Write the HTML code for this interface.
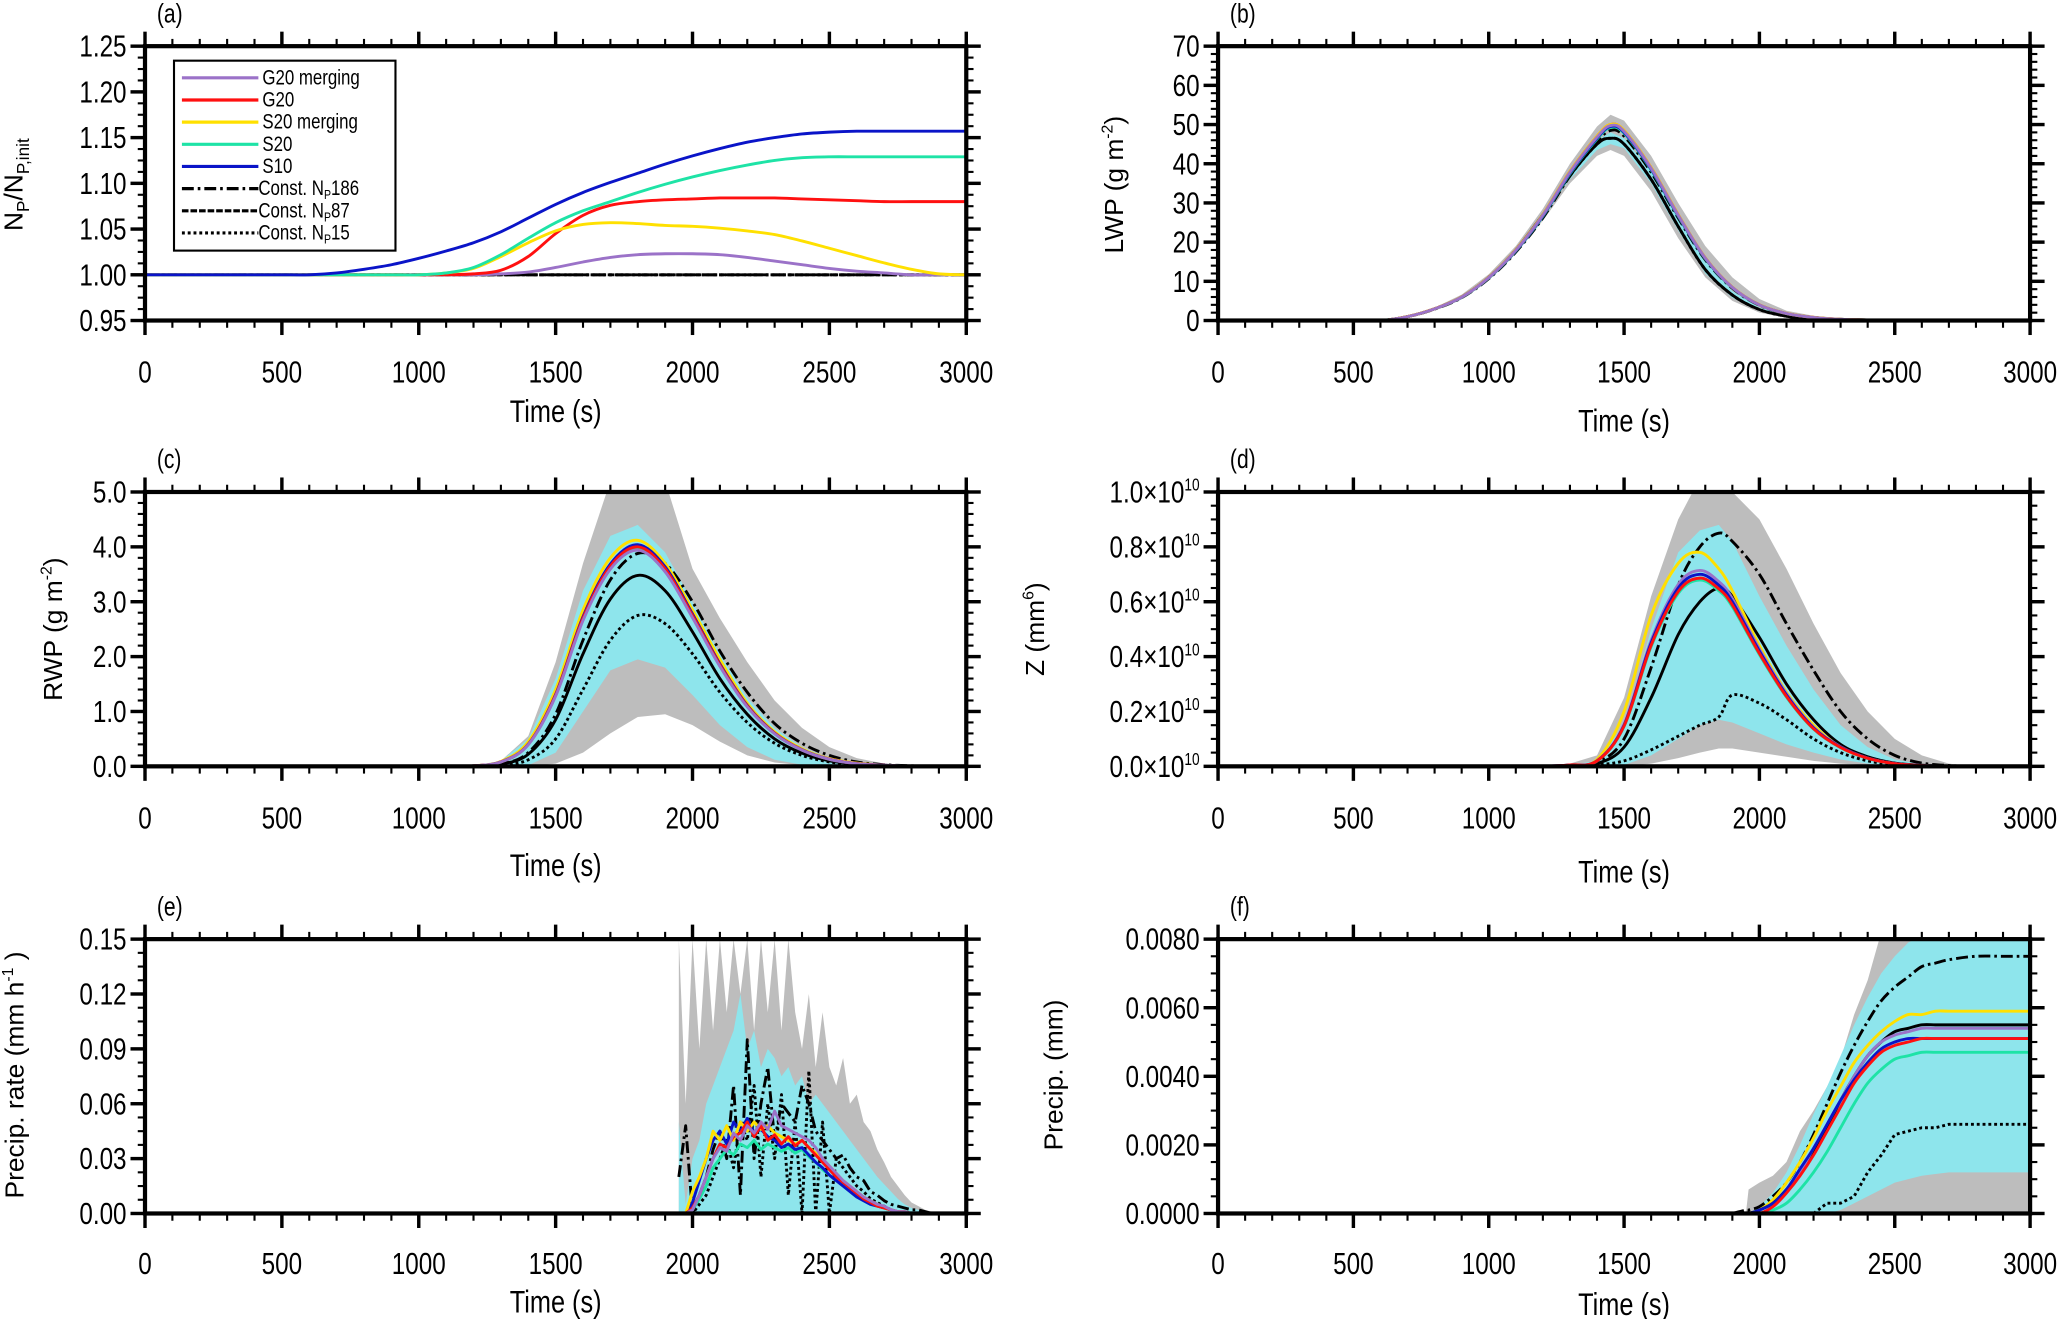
<!DOCTYPE html>
<html><head><meta charset="utf-8"><title>Multi-panel time series</title>
<style>
html,body{margin:0;padding:0;background:#fff;}
svg{display:block;}
text{fill:#000;}
.tk{font-family:"Liberation Sans Narrow","Liberation Sans",sans-serif;font-size:23px;}
.yt{font-family:"Liberation Sans",sans-serif;font-size:20px;}
.xt{font-family:"Liberation Sans Narrow","Liberation Sans",sans-serif;font-size:24px;}
.pl{font-family:"Liberation Sans Narrow","Liberation Sans",sans-serif;font-size:20px;}
.lg{font-family:"Liberation Sans Narrow","Liberation Sans",sans-serif;font-size:16px;}
</style></head>
<body>
<svg id="fig" width="2067" height="1319" viewBox="0 0 1568 1000" preserveAspectRatio="none" xmlns="http://www.w3.org/2000/svg"></svg>
<script>
// ---------- panel (a) data ----------
const tA = [0,100,200,300,400,500,600,700,800,900,1000,1100,1200,1300,1400,1500,1600,1700,1800,1900,2000,2100,2200,2300,2400,2500,2600,2700,2800,2900,3000];
const aG20m = [1,1,1,1,1,1,1,1,1,1,1,1,1,1.001,1.003,1.008,1.014,1.019,1.022,1.023,1.023,1.022,1.019,1.015,1.011,1.007,1.004,1.002,1.0,1.0,1.0];
const aG20 = [1,1,1,1,1,1,1,1,1,1,1,1,1.001,1.005,1.02,1.045,1.065,1.076,1.080,1.082,1.083,1.084,1.084,1.084,1.083,1.082,1.081,1.080,1.080,1.080,1.080];
const aS20m = [1,1,1,1,1,1,1,1,1,1,1,1.002,1.007,1.02,1.035,1.048,1.055,1.057,1.056,1.054,1.053,1.051,1.048,1.044,1.037,1.029,1.021,1.013,1.006,1.001,1.0];
const aS20 = [1,1,1,1,1,1,1,1,1,1,1,1.002,1.008,1.022,1.04,1.057,1.07,1.08,1.09,1.099,1.107,1.114,1.12,1.125,1.128,1.129,1.129,1.129,1.129,1.129,1.129];
const aS10 = [1,1,1,1,1,1,1,1.002,1.006,1.011,1.018,1.026,1.035,1.047,1.062,1.077,1.09,1.101,1.111,1.121,1.13,1.138,1.145,1.15,1.154,1.156,1.157,1.157,1.157,1.157,1.157];
const aConst = [1,1,1,1,1,1,1,1,1,1,1,1,1,1,1,1,1,1,1,1,1,1,1,1,1,1,1,1,1,1,1];

// ---------- panel (b) data ----------
const tB = [500,600,700,800,900,1000,1100,1200,1300,1400,1450,1500,1600,1700,1800,1900,2000,2100,2200,2300,2400,2500,2600];
const bColor = [0,0,1,3,6,11,18,27,38,47,50,48.5,39,27,16,8.5,4,1.8,0.8,0.3,0.15,0.05,0];
const bBlack = [0,0,1,3,6,11,18,27,37,45,46.5,45,36,24,13,6.5,2.8,1.1,0.4,0.1,0,0,0];
const bGrayHi = [0,0,1.2,3.3,6.6,11.8,19,28.5,40,49.5,52.5,51,42,30,19,11,5.5,2.5,1.2,0.6,0.3,0.1,0];
const bGrayLo = [0,0,0.8,2.7,5.4,10.2,17,25.5,35,42,43.5,42,33,21,11,5,2,0.7,0.2,0,0,0,0];
const bCyanHi = [0,0,1,3,6,11,18,27,38,46,48,46.5,38,26,15,7.5,3.3,1.3,0.5,0.2,0,0,0];
const bCyanLo = [0,0,1,3,6,11,18,27,36,43.5,45,44,35,23,12,5.8,2.4,0.9,0.3,0,0,0,0];

// ---------- panel (c) data ----------
const tC = [1100,1200,1300,1400,1500,1600,1700,1800,1900,2000,2100,2200,2300,2400,2500,2600,2700,2800,2900];
const cColor = [0,0.01,0.08,0.4,1.3,2.7,3.65,4.0,3.6,2.75,1.85,1.1,0.6,0.3,0.13,0.05,0.02,0,0];
const cYellow = [0,0.01,0.09,0.45,1.4,2.85,3.8,4.12,3.7,2.85,1.95,1.15,0.63,0.32,0.14,0.06,0.02,0,0];
const c186 = [0,0,0.04,0.25,0.95,2.3,3.4,3.88,3.7,3.0,2.1,1.35,0.78,0.42,0.2,0.08,0.03,0.01,0];
const c87 = [0,0,0.04,0.22,0.85,2.05,3.05,3.48,3.2,2.45,1.6,0.95,0.5,0.24,0.1,0.04,0.01,0,0];
const c15 = [0,0,0.02,0.12,0.5,1.4,2.3,2.75,2.6,2.05,1.35,0.8,0.42,0.2,0.08,0.03,0.01,0,0];
const cGrayHi = [0,0.01,0.1,0.55,1.9,3.7,5.2,5.5,5.2,3.6,2.7,1.9,1.2,0.7,0.35,0.15,0.05,0.01,0];
const cGrayLo = [0,0,0,0,0.05,0.25,0.6,0.9,0.95,0.75,0.45,0.2,0.07,0.02,0,0,0,0,0];
const cCyanHi = [0,0.01,0.1,0.5,1.6,3.2,4.2,4.4,3.9,3.0,2.05,1.25,0.7,0.35,0.15,0.06,0.02,0,0];
const cCyanLo = [0,0,0,0.02,0.25,1.0,1.75,1.95,1.8,1.3,0.75,0.35,0.12,0.03,0,0,0,0,0];

// ---------- panel (d) data (units 1e10 mm^6) ----------
const tD = [1200,1300,1400,1500,1600,1700,1780,1850,1900,2000,2100,2200,2300,2400,2500,2600,2700,2800];
const dColor = [0,0.005,0.02,0.15,0.45,0.65,0.7,0.66,0.6,0.42,0.26,0.14,0.07,0.03,0.01,0.003,0,0];
const dYellow = [0,0.005,0.025,0.2,0.55,0.74,0.78,0.72,0.64,0.44,0.27,0.15,0.07,0.03,0.01,0.003,0,0];
const d186 = [0,0.003,0.015,0.1,0.36,0.66,0.8,0.85,0.82,0.7,0.52,0.35,0.2,0.1,0.04,0.012,0.003,0];
const d87 = [0,0.003,0.01,0.07,0.25,0.48,0.6,0.65,0.62,0.47,0.3,0.17,0.08,0.035,0.012,0.004,0,0];
const d15 = [0,0,0.005,0.02,0.06,0.11,0.15,0.18,0.26,0.23,0.17,0.1,0.05,0.02,0.006,0.002,0,0];
const dGrayHi = [0,0.01,0.04,0.25,0.62,0.9,1.05,1.05,1.0,0.9,0.72,0.52,0.34,0.2,0.1,0.04,0.01,0];
const dGrayLo = [0,0,0,0,0.01,0.03,0.05,0.065,0.065,0.05,0.035,0.02,0.01,0.005,0,0,0,0];
const dCyanHi = [0,0.005,0.02,0.15,0.5,0.78,0.86,0.88,0.82,0.62,0.44,0.28,0.15,0.07,0.025,0.008,0,0];
const dCyanLo = [0,0,0,0.005,0.04,0.1,0.15,0.17,0.16,0.12,0.08,0.05,0.025,0.01,0,0,0,0];

// ---------- panel (e) data ----------
const tE = [1950,1975,2000,2025,2050,2075,2100,2125,2150,2175,2200,2225,2250,2275,2300,2325,2350,2375,2400,2425,2450,2475,2500,2525,2550,2575,2600,2625,2650,2675,2700,2725,2750,2775,2800,2825,2850,2875,2900];
const eGrayHi = [0.15,0.06,0.15,0.09,0.15,0.10,0.15,0.11,0.15,0.12,0.15,0.10,0.15,0.11,0.15,0.10,0.15,0.11,0.09,0.12,0.08,0.11,0.08,0.07,0.085,0.06,0.065,0.05,0.045,0.035,0.028,0.02,0.015,0.01,0.006,0.004,0.002,0.001,0];
const eCyanHi = [0.05,0.005,0.03,0.04,0.06,0.07,0.08,0.09,0.10,0.12,0.09,0.10,0.08,0.09,0.085,0.075,0.08,0.07,0.075,0.06,0.065,0.06,0.055,0.05,0.045,0.04,0.035,0.03,0.025,0.02,0.016,0.012,0.008,0.005,0.003,0.002,0.001,0,0];
const e186 = [0.02,0.048,0,0.01,0.02,0.035,0.045,0.03,0.07,0.01,0.095,0.03,0.06,0.08,0.04,0.06,0.055,0.05,0.07,0.06,0.045,0.04,0.035,0.03,0.032,0.025,0.02,0.018,0.012,0.01,0.007,0.005,0.004,0.003,0.002,0.002,0.001,0,0];
const e15 = [0,0,0,0.005,0.01,0.02,0.03,0.04,0.025,0.05,0.04,0.07,0.02,0.06,0.03,0.065,0.01,0.05,0,0.078,0,0.05,0,0.03,0.025,0.02,0.015,0.012,0.008,0.006,0.004,0.002,0.001,0,0,0,0,0,0];
const eBlue = [0,0,0.006,0.018,0.03,0.04,0.045,0.038,0.05,0.045,0.052,0.044,0.046,0.042,0.04,0.036,0.038,0.035,0.036,0.032,0.028,0.025,0.021,0.018,0.015,0.012,0.009,0.007,0.005,0.004,0.003,0.002,0.001,0.001,0,0,0,0,0];
const eRed = [0,0,0.003,0.01,0.02,0.03,0.038,0.036,0.042,0.044,0.05,0.042,0.048,0.04,0.043,0.038,0.042,0.037,0.04,0.036,0.032,0.028,0.024,0.02,0.017,0.014,0.011,0.008,0.006,0.004,0.003,0.002,0.001,0.001,0,0,0,0,0];
const eYellow = [0,0,0.012,0.02,0.03,0.045,0.04,0.048,0.04,0.05,0.045,0.05,0.046,0.048,0.044,0.042,0.04,0.038,0.04,0.036,0.033,0.03,0.026,0.022,0.018,0.015,0.012,0.009,0.007,0.005,0.003,0.002,0.001,0.001,0,0,0,0,0];
const eGreen = [0,0,0.002,0.008,0.015,0.025,0.03,0.035,0.032,0.038,0.036,0.04,0.035,0.038,0.036,0.034,0.036,0.033,0.035,0.031,0.028,0.024,0.021,0.018,0.015,0.012,0.009,0.007,0.005,0.004,0.003,0.002,0.001,0,0,0,0,0,0];
const ePurple = [0,0,0.002,0.01,0.02,0.03,0.036,0.034,0.044,0.04,0.048,0.044,0.05,0.046,0.056,0.048,0.046,0.044,0.042,0.04,0.036,0.03,0.026,0.022,0.018,0.015,0.012,0.009,0.007,0.005,0.004,0.002,0.001,0.001,0,0,0,0,0];

// ---------- panel (f) data ----------
const tF = [1900,1950,1960,2000,2050,2100,2150,2200,2250,2300,2350,2400,2450,2500,2550,2600,2650,2700,2800,2900,3000];
const fGrayHi = [0,0,0.0007,0.0009,0.0011,0.0015,0.0024,0.0030,0.0037,0.0045,0.0058,0.0068,0.0082,0.009,0.009,0.009,0.009,0.009,0.009,0.009,0.009];
const fCyanHi = [0,0,0,0.0002,0.0006,0.0012,0.002,0.0029,0.0037,0.0046,0.0055,0.0063,0.007,0.0075,0.0079,0.0081,0.0082,0.0082,0.0082,0.0082,0.0082];
const fCyanLo = [0,0,0,0,0,0,0,0,0,0.0001,0.0003,0.0005,0.0007,0.0009,0.001,0.0011,0.00115,0.0012,0.0012,0.0012,0.0012];
const f186 = [0,0.0001,0.0001,0.0002,0.0005,0.0009,0.0015,0.0023,0.0032,0.0041,0.0049,0.0056,0.0062,0.0066,0.0069,0.0072,0.0073,0.0074,0.0075,0.0075,0.0075];
const fYellow = [0,0,0,0.0001,0.0004,0.0009,0.0015,0.0022,0.003,0.0037,0.0044,0.0049,0.0053,0.0056,0.0058,0.0058,0.0059,0.0059,0.0059,0.0059,0.0059];
const fPurple = [0,0,0,0,0.0002,0.0006,0.0012,0.0019,0.0026,0.0033,0.004,0.0046,0.005,0.0052,0.0053,0.0054,0.0054,0.0054,0.0054,0.0054,0.0054];
const f87 = [0,0,0,0.0001,0.0003,0.0007,0.0012,0.0018,0.0025,0.0033,0.004,0.0046,0.005,0.0053,0.0054,0.0055,0.0055,0.0055,0.0055,0.0055,0.0055];
const fBlue = [0,0,0,0.0001,0.0003,0.0007,0.0013,0.0019,0.0026,0.0033,0.0039,0.0044,0.0048,0.005,0.0051,0.0051,0.0051,0.0051,0.0051,0.0051,0.0051];
const fRed = [0,0,0,0,0.0002,0.0006,0.0011,0.0017,0.0024,0.0031,0.0038,0.0043,0.0047,0.0049,0.005,0.0051,0.0051,0.0051,0.0051,0.0051,0.0051];
const fGreen = [0,0,0,0,0.0001,0.0003,0.0007,0.0012,0.0018,0.0025,0.0032,0.0038,0.0042,0.0045,0.0046,0.0047,0.0047,0.0047,0.0047,0.0047,0.0047];
const f15 = [0,0,0,0,0,0,0,0,0.0003,0.0003,0.0005,0.0012,0.0017,0.0023,0.0024,0.0025,0.0025,0.0026,0.0026,0.0026,0.0026];

const legendLabels = ["G20 merging","G20","S20 merging","S20","S10","Const. N","Const. N","Const. N"];
const legendSuffix = ["","","","","","186","87","15"];

const NS = "http://www.w3.org/2000/svg";
const svg = document.getElementById('fig');
const COL = {purple:"#9b72c8", red:"#ff1010", yellow:"#ffe000", green:"#1ee3a6", blue:"#0a14c8", cyan:"#8ee5ec", gray:"#bdbdbd"};
const DASH = {dd:"9,3,2,3", da:"5,1.5", dot:"2.2,2.2"};

function mk(tag, attrs, parent){
  const e = document.createElementNS(NS, tag);
  for (const k in attrs) e.setAttribute(k, attrs[k]);
  (parent||svg).appendChild(e);
  return e;
}

function makePanel(p){
  const g = mk('g', {});
  
  
  const sx = v => p.x0 + (v - 0) / 3000 * (p.x1 - p.x0);
  const sy = v => p.y1 - (v - p.ymin) / (p.ymax - p.ymin) * (p.y1 - p.y0);
  const clip = mk('clipPath', {id:'clip' + p.id}, g);
  mk('rect', {x:p.x0, y:p.y0, width:p.x1 - p.x0, height:p.y1 - p.y0}, clip);
  const plot = mk('g', {'clip-path':'url(#clip' + p.id + ')'}, g);
  
  
  return {g, plot, sx, sy, p};
}

function pathFrom(P, ts, vs, smooth){
  const pts = ts.map((t,i)=>[P.sx(t), P.sy(vs[i])]);
  if (!smooth) return 'M' + pts.map(q=>q[0].toFixed(2)+','+q[1].toFixed(2)).join('L');
  let d = 'M' + pts[0][0].toFixed(2) + ',' + pts[0][1].toFixed(2);
  for (let i=0;i<pts.length-1;i++){
    const p0 = pts[Math.max(0,i-1)], p1 = pts[i], p2 = pts[i+1], p3 = pts[Math.min(pts.length-1,i+2)];
    const c1 = [p1[0] + (p2[0]-p0[0])/6, p1[1] + (p2[1]-p0[1])/6];
    const c2 = [p2[0] - (p3[0]-p1[0])/6, p2[1] - (p3[1]-p1[1])/6];
    d += 'C' + c1[0].toFixed(2)+','+c1[1].toFixed(2)+' '+c2[0].toFixed(2)+','+c2[1].toFixed(2)+' '+p2[0].toFixed(2)+','+p2[1].toFixed(2);
  }
  return d;
}

function band(P, ts, lo, hi, color, name){
  const pts = ts.map((t,i)=>[P.sx(t), P.sy(hi[i])]).concat(ts.map((t,i)=>[P.sx(t), P.sy(lo[i])]).reverse());
  const e = mk('polygon', {points: pts.map(q=>q[0].toFixed(2)+','+q[1].toFixed(2)).join(' '), fill:color, stroke:'none'}, P.plot);
  
  
}

function line(P, ts, vs, color, dash, name, smooth, w){
  const e = mk('path', {d: pathFrom(P, ts, vs, smooth), fill:'none', stroke:color, 'stroke-width': w||2.2, 'stroke-linejoin':'round'}, P.plot);
  if (dash) e.setAttribute('stroke-dasharray', dash);
  
  
}

function axes(P, yMajors, yLabels, yMinorStep, ytitle, ytitleX, ytitleY, xLabelY, xTitleY, labelText, sup){
  const p = P.p, g = P.g;
  const fr = mk('rect', {x:p.x0, y:p.y0, width:p.x1-p.x0, height:p.y1-p.y0, fill:'none', stroke:'#000', 'stroke-width':3.2}, g);
  
  
  const tg = mk('g', {stroke:'#000'}, g);
  
  
  for (let t=0; t<=3000; t+=100){
    const major = t % 500 === 0, L = major ? 11 : 5.5, x = P.sx(t), sw = major ? 2.6 : 1.6;
    mk('line', {x1:x, y1:p.y1, x2:x, y2:p.y1+L, 'stroke-width':sw}, tg);
    mk('line', {x1:x, y1:p.y0, x2:x, y2:p.y0-L, 'stroke-width':sw}, tg);
    if (major){
      const tx = mk('text', {x:x, y:xLabelY, 'text-anchor':'middle', class:'tk'}, g);
      tx.textContent = String(t);
      
      
    }
  }
  const nMin = Math.round((p.ymax - p.ymin) / yMinorStep);
  for (let i=0;i<=nMin;i++){
    const v = p.ymin + i*yMinorStep, y = P.sy(v);
    const isMajor = yMajors.some(m=>Math.abs(m-v) < yMinorStep*0.01);
    const L = isMajor ? 11 : 5.5, sw = isMajor ? 2.6 : 1.6;
    mk('line', {x1:p.x0, y1:y, x2:p.x0-L, y2:y, 'stroke-width':sw}, tg);
    mk('line', {x1:p.x1, y1:y, x2:p.x1+L, y2:y, 'stroke-width':sw}, tg);
  }
  yMajors.forEach((v,i)=>{
    const tx = mk('text', {x:p.x0-14, y:P.sy(v)+8, 'text-anchor':'end', class:'tk'}, g);
    if (sup){
      tx.textContent = yLabels[i] + '\u00d710';
      const ts = mk('tspan', {dy:-9, 'font-size':13}, tx);
      ts.textContent = '10';
    } else tx.textContent = yLabels[i];
    
    
  });
  const xt = mk('text', {x:(p.x0+p.x1)/2, y:xTitleY, 'text-anchor':'middle', class:'xt'}, g);
  xt.textContent = 'Time (s)';
  
  
  const yt = mk('text', {x:0, y:0, 'text-anchor':'middle', class:'yt', transform:'translate('+ytitleX+','+ytitleY+') rotate(-90)'}, g);
  ytitle(yt);
  
  
  const pl = mk('text', {x:p.x0+9, y:p.y0-18, class:'pl'}, g);
  pl.textContent = labelText;
  
  
}
function tsp(parent, txt, attrs){ const s = mk('tspan', attrs||{}, parent); s.textContent = txt; return s; }

// ---------- Panel a ----------
const PA = makePanel({id:'a', x0:110, x1:733, y0:35, y1:243, ymin:0.95, ymax:1.25});
line(PA, tA, aConst, '#000', DASH.dot, 'line-const-np15', true);
line(PA, tA, aConst, '#000', DASH.da, 'line-const-np87', true);
line(PA, tA, aConst, '#000', DASH.dd, 'line-const-np186', true);
line(PA, tA, aG20m, COL.purple, null, 'line-g20-merging', true);
line(PA, tA, aG20, COL.red, null, 'line-g20', true);
line(PA, tA, aS20m, COL.yellow, null, 'line-s20-merging', true);
line(PA, tA, aS20, COL.green, null, 'line-s20', true);
line(PA, tA, aS10, COL.blue, null, 'line-s10', true);
axes(PA, [0.95,1.0,1.05,1.1,1.15,1.2,1.25], ["0.95","1.00","1.05","1.10","1.15","1.20","1.25"], 0.0125,
  e=>{tsp(e,'N');tsp(e,'P',{'font-size':13,dy:5});tsp(e,'/N',{dy:-5});tsp(e,'P,init',{'font-size':13,dy:5});}, 17, 140, 290, 320, '(a)');
// legend
const lg = mk('g', {});


mk('rect', {x:132, y:46, width:168, height:144, fill:'#fff', stroke:'#000', 'stroke-width':1.6}, lg);
const lgColors = [COL.purple, COL.red, COL.yellow, COL.green, COL.blue, '#000', '#000', '#000'];
const lgDash = [null,null,null,null,null,DASH.dd,DASH.da,DASH.dot];
legendLabels.forEach((lab,i)=>{
  const y = 59 + i*16.8;
  const ent = mk('g', {}, lg);
  
  
  const ln = mk('line', {x1:138, y1:y, x2:196, y2:y, stroke:lgColors[i], 'stroke-width':2.4}, ent);
  if (lgDash[i]) ln.setAttribute('stroke-dasharray', lgDash[i]);
  const tx = mk('text', {x:i<5?199:196, y:y+5, class:'lg'}, ent);
  tx.textContent = lab;
  if (legendSuffix[i]){ tsp(tx,'P',{'font-size':10,dy:3}); tsp(tx,legendSuffix[i],{dy:-3}); }
});

// ---------- Panel b ----------
const PB = makePanel({id:'b', x0:924, x1:1540, y0:35, y1:243, ymin:0, ymax:70});
band(PB, tB, bGrayLo, bGrayHi, COL.gray, 'band-gray');
band(PB, tB, bCyanLo, bCyanHi, COL.cyan, 'band-cyan');
line(PB, tB, bBlack, '#000', DASH.dot, 'line-const-np15', true);
line(PB, tB, bBlack, '#000', null, 'line-const-np87', true);
line(PB, tB, bColor.map(v=>v*0.97), '#000', DASH.dd, 'line-const-np186', true);
line(PB, tB, bColor.map(v=>v*0.985), COL.green, null, 'line-s20', true);
line(PB, tB, bColor.map(v=>v*0.99), COL.blue, null, 'line-s10', true);
line(PB, tB, bColor, COL.red, null, 'line-g20', true);
line(PB, tB, bColor, COL.yellow, null, 'line-s20-merging', true);
line(PB, tB, bColor.map(v=>v*0.995), COL.purple, null, 'line-g20-merging', true);
axes(PB, [0,10,20,30,40,50,60,70], ["0","10","20","30","40","50","60","70"], 2,
  e=>{tsp(e,'LWP (g m');tsp(e,'-2',{'font-size':12,dy:-8});tsp(e,')',{dy:8});}, 852, 140, 290, 327, '(b)');

// ---------- Panel c ----------
const PC = makePanel({id:'c', x0:110, x1:733, y0:373, y1:581, ymin:0, ymax:5});
band(PC, tC, cGrayLo, cGrayHi, COL.gray, 'band-gray');
band(PC, tC, cCyanLo, cCyanHi, COL.cyan, 'band-cyan');
line(PC, tC, c15, '#000', DASH.dot, 'line-const-np15', true);
line(PC, tC, c87, '#000', null, 'line-const-np87', true);
line(PC, tC, c186, '#000', DASH.dd, 'line-const-np186', true);
line(PC, tC, cColor.map(v=>v*0.99), COL.green, null, 'line-s20', true);
line(PC, tC, cYellow, COL.yellow, null, 'line-s20-merging', true);
line(PC, tC, cColor.map(v=>v*1.01), COL.blue, null, 'line-s10', true);
line(PC, tC, cColor, COL.red, null, 'line-g20', true);
line(PC, tC, cColor.map(v=>v*0.985), COL.purple, null, 'line-g20-merging', true);
axes(PC, [0,1,2,3,4,5], ["0.0","1.0","2.0","3.0","4.0","5.0"], 0.2,
  e=>{tsp(e,'RWP (g m');tsp(e,'-2',{'font-size':12,dy:-8});tsp(e,')',{dy:8});}, 47, 477, 628, 664, '(c)');

// ---------- Panel d ----------
const PD = makePanel({id:'d', x0:924, x1:1540, y0:373, y1:581, ymin:0, ymax:1.0});
band(PD, tD, dGrayLo, dGrayHi, COL.gray, 'band-gray');
band(PD, tD, dCyanLo, dCyanHi, COL.cyan, 'band-cyan');
line(PD, tD, d15, '#000', DASH.dot, 'line-const-np15', true);
line(PD, tD, d87, '#000', null, 'line-const-np87', true);
line(PD, tD, d186, '#000', DASH.dd, 'line-const-np186', true);
line(PD, tD, dColor.map(v=>v*0.97), COL.green, null, 'line-s20', true);
line(PD, tD, dYellow, COL.yellow, null, 'line-s20-merging', true);
line(PD, tD, dColor.map(v=>v*1.02), COL.purple, null, 'line-g20-merging', true);
line(PD, tD, dColor.map(v=>v*1.0), COL.blue, null, 'line-s10', true);
line(PD, tD, dColor.map(v=>v*0.98), COL.red, null, 'line-g20', true);
axes(PD, [0,0.2,0.4,0.6,0.8,1.0], ["0.0","0.2","0.4","0.6","0.8","1.0"], 0.05,
  e=>{tsp(e,'Z (mm');tsp(e,'6',{'font-size':12,dy:-8});tsp(e,')',{dy:8});}, 792, 477, 628, 669, '(d)', true);

// ---------- Panel e ----------
const PE = makePanel({id:'e', x0:110, x1:733, y0:712, y1:920, ymin:0, ymax:0.15});
band(PE, tE, tE.map(()=>0), eGrayHi, COL.gray, 'band-gray');
band(PE, tE, tE.map(()=>0), eCyanHi, COL.cyan, 'band-cyan');
line(PE, tE, e15, '#000', DASH.dot, 'line-const-np15', false, 2.2);
line(PE, tE, e186, '#000', DASH.dd, 'line-const-np186', false, 2.2);
line(PE, tE, eGreen, COL.green, null, 'line-s20', false);
line(PE, tE, eBlue, COL.blue, null, 'line-s10', false);
line(PE, tE, eYellow, COL.yellow, null, 'line-s20-merging', false);
line(PE, tE, eRed, COL.red, null, 'line-g20', false);
line(PE, tE, ePurple, COL.purple, null, 'line-g20-merging', false);
axes(PE, [0,0.03,0.06,0.09,0.12,0.15], ["0.00","0.03","0.06","0.09","0.12","0.15"], 0.0075,
  e=>{tsp(e,'Precip. rate (mm h');tsp(e,'-1',{'font-size':12,dy:-8});tsp(e,' )',{dy:8});}, 18, 815, 966, 995, '(e)');

// ---------- Panel f ----------
const PF = makePanel({id:'f', x0:924, x1:1540, y0:712, y1:920, ymin:0, ymax:0.008});
band(PF, tF, tF.map(()=>0), fGrayHi, COL.gray, 'band-gray');
band(PF, tF, fCyanLo, fCyanHi, COL.cyan, 'band-cyan');
line(PF, tF, f15, '#000', DASH.dot, 'line-const-np15', false);
line(PF, tF, f186, '#000', DASH.dd, 'line-const-np186', true);
line(PF, tF, fGreen, COL.green, null, 'line-s20', true);
line(PF, tF, fYellow, COL.yellow, null, 'line-s20-merging', true);
line(PF, tF, f87, '#000', null, 'line-const-np87', true);
line(PF, tF, fPurple, COL.purple, null, 'line-g20-merging', true);
line(PF, tF, fBlue, COL.blue, null, 'line-s10', true);
line(PF, tF, fRed, COL.red, null, 'line-g20', true);
axes(PF, [0,0.002,0.004,0.006,0.008], ["0.0000","0.0020","0.0040","0.0060","0.0080"], 0.0005,
  e=>{tsp(e,'Precip. (mm)');}, 806, 815, 966, 997, '(f)');

// condense narrow-font text horizontally (Helvetica Narrow look)
svg.querySelectorAll('text.tk, text.xt, text.pl, text.lg').forEach(t=>{
  const x = t.getAttribute('x'), y = t.getAttribute('y');
  t.setAttribute('x', 0);
  t.setAttribute('y', 0);
  t.setAttribute('transform', 'translate(' + x + ',' + y + ') scale(0.8,1)');
});
</script>
</body></html>
